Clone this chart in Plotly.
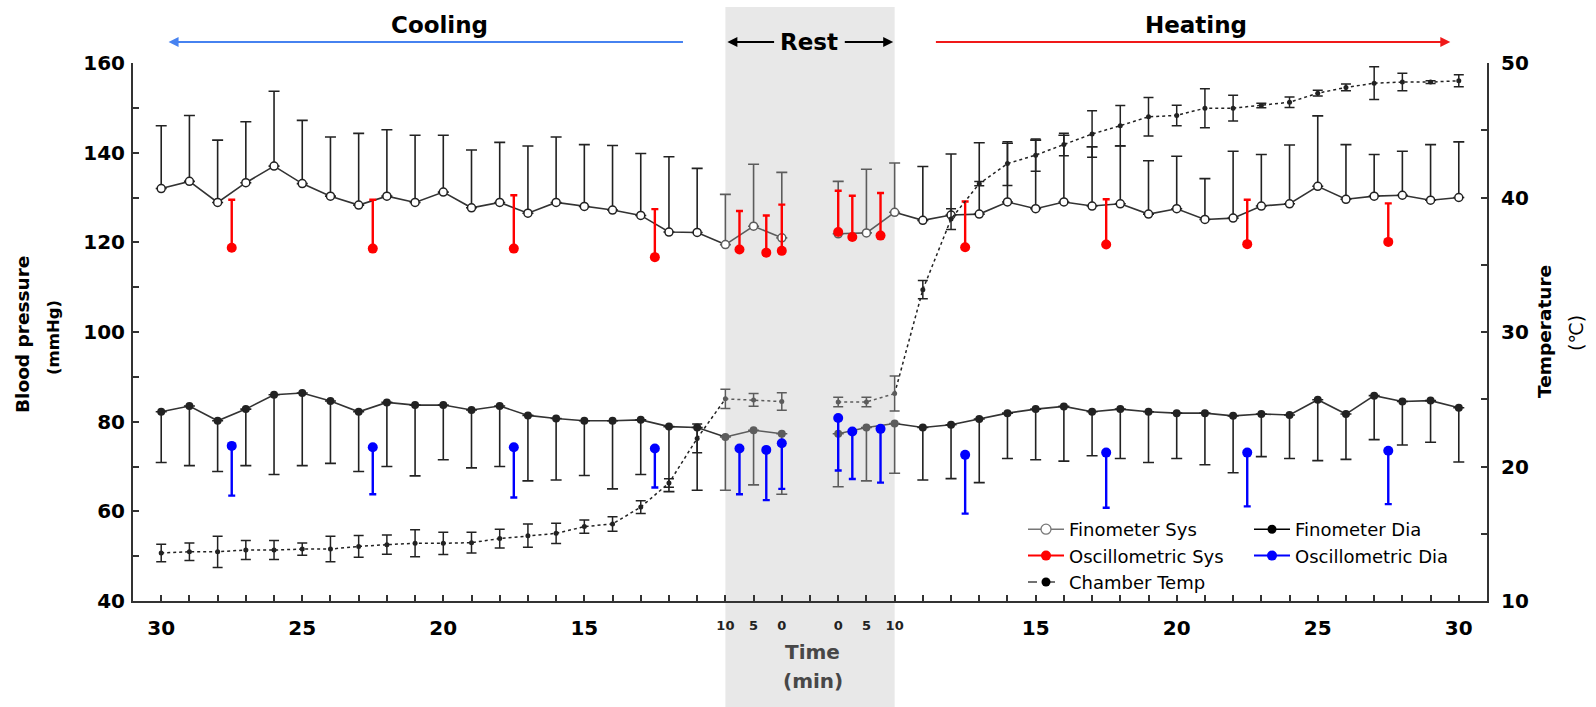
import plotly.graph_objects as go

# ---------------- data ----------------
# x "slots": 0..19 cooling 30..11 min, 20..22 rest 10,5,0 ; 23 blank ; 24..26 rest 0,5,10 ; 27..46 heating 11..30 min
fin_slots = list(range(0, 23)) + list(range(24, 47))

big_tick_slots = [0, 5, 10, 15, 31, 36, 41, 46]
big_tick_text = ["30", "25", "20", "15", "15", "20", "25", "30"]
rest_tick_slots = [20, 21, 22, 24, 25, 26]
rest_tick_text = ["10", "5", "0", "0", "5", "10"]

fin_sys = [132.0, 133.6, 128.9, 133.3, 137.0, 133.1, 130.3, 128.3, 130.3, 128.9,
           131.2, 127.7, 128.9, 126.5, 128.9, 128.0, 127.2, 126.0, 122.3, 122.2,
           119.5, 123.6, 121.0,
           121.9, 122.1, 126.7,
           124.9, 126.1, 126.3, 129.0, 127.5, 129.0, 128.1, 128.6, 126.3, 127.5,
           125.1, 125.4, 128.1, 128.6, 132.5, 129.6, 130.3, 130.5, 129.4, 130.0]
fin_sys_err = [14.0, 14.7, 13.9, 13.6, 16.7, 14.1, 13.2, 16.0, 14.8, 15.0,
               12.7, 12.9, 13.4, 15.0, 14.6, 13.8, 14.4, 13.8, 16.8, 14.3,
               11.2, 13.8, 14.6,
               11.7, 14.2, 11.0,
               12.0, 13.6, 15.9, 13.1, 15.3, 14.9, 13.2, 12.9, 11.9, 11.7,
               9.1, 14.9, 11.5, 13.1, 15.7, 12.2, 9.3, 9.8, 12.4, 12.4]
fin_dia = [82.2, 83.5, 80.2, 82.8, 86.0, 86.4, 84.6, 82.2, 84.3, 83.7,
           83.7, 82.6, 83.5, 81.4, 80.7, 80.2, 80.2, 80.4, 78.9, 78.7,
           76.6, 78.1, 77.3,
           77.3, 78.7, 79.6,
           78.7, 79.3, 80.6, 81.9, 82.8, 83.4, 82.2, 82.8, 82.2, 81.9,
           81.9, 81.3, 81.7, 81.5, 84.9, 81.7, 85.8, 84.5, 84.7, 83.1]
fin_dia_err = [11.3, 13.3, 11.3, 12.6, 17.8, 16.2, 13.9, 13.3, 14.3, 15.8,
               12.2, 12.9, 13.5, 14.6, 13.7, 12.2, 15.2, 12.2, 14.5, 14.0,
               11.9, 12.2, 13.5,
               11.8, 11.9, 11.1,
               11.7, 12.0, 14.2, 10.1, 11.3, 12.2, 9.8, 11.0, 11.3, 10.1,
               11.5, 12.7, 9.5, 9.7, 13.6, 10.1, 9.8, 9.7, 9.3, 12.1]
temp = [13.57, 13.66, 13.66, 13.79, 13.79, 13.86, 13.86, 14.06, 14.19, 14.29,
        14.29, 14.34, 14.64, 14.86, 15.03, 15.53, 15.73, 16.98, 18.77, 22.09,
        25.03, 24.95, 24.83,
        24.80, 24.80, 25.42,
        33.15, 38.40, 41.03, 42.52, 43.15, 43.94, 44.72, 45.34, 46.00, 46.10,
        46.64, 46.64, 46.84, 47.08, 47.76, 48.18, 48.50, 48.58, 48.58, 48.68]
temp_err = [0.65, 0.65, 1.16, 0.71, 0.71, 0.45, 0.95, 0.81, 0.72, 1.00,
            0.83, 0.78, 0.70, 0.87, 0.75, 0.50, 0.54, 0.47, 0.31, 1.07,
            0.72, 0.47, 0.65,
            0.35, 0.35, 1.30,
            0.67, 0.77, 0.16, 1.62, 1.20, 0.83, 1.73, 1.50, 1.43, 0.76,
            1.45, 0.96, 0.16, 0.39, 0.22, 0.25, 1.22, 0.65, 0.10, 0.45]

osc_slots = [2.5, 7.5, 12.5, 17.5, 20.5, 21.45, 22.0, 24.0, 24.5, 25.5, 28.5, 33.5, 38.5, 43.5]
osc_sys = [118.8, 118.6, 118.6, 116.7, 118.4, 117.7, 118.1, 122.3, 121.2, 121.5, 118.9, 119.5, 119.6, 120.1]
osc_sys_err = [10.7, 10.9, 11.9, 10.7, 8.6, 8.3, 10.3, 9.2, 9.2, 9.5, 10.2, 10.1, 9.9, 8.6]
osc_dia = [74.6, 74.3, 74.3, 74.0, 74.0, 73.7, 75.2, 80.8, 77.8, 78.4, 72.6, 73.1, 73.1, 73.5]
osc_dia_err = [11.1, 10.5, 11.2, 8.7, 10.2, 11.2, 10.2, 11.7, 10.6, 12.0, 13.1, 12.3, 12.0, 11.9]

# ---------------- styles ----------------
FONT = "DejaVu Sans"
DARK = "#222222"
LINE = "#333333"
REST = "#5c5c5c"
RED = "#ff0000"
BLUE = "#0000ff"
W, H = 1596, 707
ML, MR, MT, MB = 133, 109, 63, 106
XR = [-1, 47]


def ids(lo, hi):
    return [k for k, s in enumerate(fin_slots) if lo <= s <= hi]


def pick(arr, k):
    return [arr[i] for i in k]


fig = go.Figure()

# ---- chamber temperature (right axis) ----
for lo, hi, col in [(0, 20, DARK), (20, 22, REST), (24, 26, REST), (26, 46, DARK)]:
    k = ids(lo, hi)
    fig.add_trace(go.Scatter(x=pick(fin_slots, k), y=pick(temp, k), yaxis="y2", mode="lines",
                             line=dict(color=col, width=1.5, dash="dot"),
                             showlegend=False, hoverinfo="skip"))
for lo, hi, col in [(0, 19, DARK), (20, 26, REST), (27, 46, DARK)]:
    k = ids(lo, hi)
    fig.add_trace(go.Scatter(x=pick(fin_slots, k), y=pick(temp, k), yaxis="y2", mode="markers",
                             marker=dict(color=col, size=5),
                             error_y=dict(type="data", array=pick(temp_err, k), color=col,
                                          thickness=1.5, width=5),
                             showlegend=False))

# ---- Finometer lines ----
for series in (fin_sys, fin_dia):
    for lo, hi, col in [(0, 20, LINE), (20, 22, REST), (24, 26, REST), (26, 46, LINE)]:
        k = ids(lo, hi)
        fig.add_trace(go.Scatter(x=pick(fin_slots, k), y=pick(series, k), mode="lines",
                                 line=dict(color=col, width=1.6), showlegend=False, hoverinfo="skip"))

# ---- Finometer markers + error bars ----
for lo, hi, col in [(0, 19, DARK), (20, 26, REST), (27, 46, DARK)]:
    k = ids(lo, hi)
    n = len(k)
    fig.add_trace(go.Scatter(x=pick(fin_slots, k), y=pick(fin_sys, k), mode="markers",
                             marker=dict(symbol="circle", size=8, color="white",
                                         line=dict(color=col, width=1.5)),
                             error_y=dict(type="data", symmetric=False, array=pick(fin_sys_err, k),
                                          arrayminus=[0] * n, color=col, thickness=1.6, width=5.5),
                             showlegend=False))
    fig.add_trace(go.Scatter(x=pick(fin_slots, k), y=pick(fin_dia, k), mode="markers",
                             marker=dict(symbol="circle", size=8, color=col),
                             error_y=dict(type="data", symmetric=False, array=[0] * n,
                                          arrayminus=pick(fin_dia_err, k), color=col,
                                          thickness=1.6, width=5.5),
                             showlegend=False))

# ---- Oscillometric ----
m = len(osc_slots)
fig.add_trace(go.Scatter(x=osc_slots, y=osc_sys, mode="markers",
                         marker=dict(color=RED, size=10),
                         error_y=dict(type="data", symmetric=False, array=osc_sys_err,
                                      arrayminus=[0] * m, color=RED, thickness=2.4, width=3.5),
                         showlegend=False))
fig.add_trace(go.Scatter(x=osc_slots, y=osc_dia, mode="markers",
                         marker=dict(color=BLUE, size=10),
                         error_y=dict(type="data", symmetric=False, array=[0] * m,
                                      arrayminus=osc_dia_err, color=BLUE, thickness=2.4, width=3.5),
                         showlegend=False))

# ---- legend entries ----
leg = [
    ("Finometer Sys", "legend", dict(color="#777777", width=1.6), dict(size=10, color="white", line=dict(color="#777777", width=1.3))),
    ("Oscillometric Sys", "legend", dict(color=RED, width=2), dict(size=10, color=RED)),
    ("Chamber Temp", "legend", dict(color="#444444", width=1.6, dash="dash"), dict(size=9, color="black")),
    ("Finometer Dia", "legend2", dict(color="black", width=1.6), dict(size=9, color="black")),
    ("Oscillometric Dia", "legend2", dict(color=BLUE, width=2), dict(size=10, color=BLUE)),
]
for name, lg, ln, mk in leg:
    fig.add_trace(go.Scatter(x=[None], y=[None], mode="lines+markers", name=name,
                             line=ln, marker=mk, legend=lg))

# dummy for xaxis2
fig.add_trace(go.Scatter(x=[None], y=[None], xaxis="x2", showlegend=False, hoverinfo="skip"))

# ---------------- layout ----------------
ph = H - MT - MB
pw = W - ML - MR


def py(ypix):
    return (H - MB - ypix) / ph


def px(xpix):
    return (xpix - ML) / pw


tickfont = dict(family=FONT, size=20, color="black", weight="bold")
axis_common = dict(showline=True, linecolor=LINE, linewidth=2, showgrid=False, zeroline=False,
                   ticks="inside", ticklen=6, tickwidth=1.5, tickcolor=LINE, tickfont=tickfont)

main_text = []
for s in range(47):
    main_text.append(big_tick_text[big_tick_slots.index(s)] if s in big_tick_slots else "")

fig.update_layout(
    width=W, height=H,
    margin=dict(l=ML, r=MR, t=MT, b=MB),
    paper_bgcolor="white", plot_bgcolor="rgba(0,0,0,0)",
    font=dict(family=FONT, color="black"),
    xaxis=dict(range=XR, tickmode="array", tickvals=list(range(47)), ticktext=main_text,
               ticklabelstandoff=8, **axis_common),
    xaxis2=dict(range=XR, overlaying="x", anchor="y", side="bottom", showline=False, showgrid=False,
                zeroline=False, ticks="", tickmode="array", tickvals=rest_tick_slots,
                ticktext=rest_tick_text, ticklabelstandoff=15,
                tickfont=dict(family=FONT, size=13, color="#222222", weight="bold")),
    yaxis=dict(range=[40, 160], tick0=40, dtick=20, ticklabelstandoff=2,
               minor=dict(dtick=10, ticks="inside", ticklen=6, tickwidth=1.5, tickcolor=LINE),
               **axis_common),
    yaxis2=dict(range=[10, 50], tick0=10, dtick=10, overlaying="y", side="right", anchor="x",
                ticklabelstandoff=8,
                minor=dict(dtick=5, ticks="inside", ticklen=6, tickwidth=1.5, tickcolor=LINE),
                **axis_common),
    legend=dict(x=px(1023), y=py(511), xanchor="left", yanchor="top", bgcolor="rgba(0,0,0,0)",
                font=dict(family=FONT, size=18, color="black"), tracegroupgap=0, itemwidth=36),
    legend2=dict(x=px(1249), y=py(511), xanchor="left", yanchor="top", bgcolor="rgba(0,0,0,0)",
                 font=dict(family=FONT, size=18, color="black"), tracegroupgap=0, itemwidth=36),
    showlegend=True,
)

# rest shading
fig.add_shape(type="rect", xref="x", yref="paper", x0=20, x1=26, y0=py(H + 5), y1=py(7),
              fillcolor="rgb(232,232,232)", line=dict(width=0), layer="below")

ann = []
C = dict(xanchor="center", yanchor="middle", showarrow=False)
titlefont = dict(family=FONT, size=23, color="black", weight="bold")
ann.append(dict(text="Cooling", xref="x", yref="paper", x=9.86, y=py(25), font=titlefont, **C))
ann.append(dict(text="Heating", xref="x", yref="paper", x=36.7, y=py(25), font=titlefont, **C))
ann.append(dict(text="Rest", xref="x", yref="paper", x=22.97, y=py(42), font=titlefont, **C))


def arrow(head, tail, color):
    return dict(text="", xref="x", yref="paper", x=head, y=py(42), axref="x", ax=tail,
                ayref="pixel", ay=0, showarrow=True, arrowhead=2, arrowsize=1, arrowwidth=2,
                arrowcolor=color, standoff=0, startstandoff=0)


ann.append(arrow(0.26, 18.55, "rgb(70,130,240)"))
ann.append(arrow(45.7, 27.41, "rgb(240,25,25)"))
ann.append(arrow(20.07, 21.78, "black"))
ann.append(arrow(25.95, 24.18, "black"))

labfont = dict(family=FONT, size=20, color="#474747", weight="bold")
ann.append(dict(text="Time", xref="x", yref="paper", x=23.1, y=py(652), font=labfont, **C))
ann.append(dict(text="(min)", xref="x", yref="paper", x=23.1, y=py(681), font=labfont, **C))

ytf = dict(family=FONT, size=18.5, color="black", weight="bold")
ann.append(dict(text="Blood pressure", xref="paper", yref="paper", x=px(22), y=py(335),
                textangle=-90, font=ytf, **C))
ann.append(dict(text="(mmHg)", xref="paper", yref="paper", x=px(54), y=py(338),
                textangle=-90, font=dict(family=FONT, size=16.5, color="black", weight="bold"), **C))
ann.append(dict(text="Temperature", xref="paper", yref="paper", x=px(1544), y=py(332),
                textangle=-90, font=ytf, **C))
ann.append(dict(text="(℃)", xref="paper", yref="paper", x=px(1576), y=py(333),
                textangle=-90, font=dict(family=FONT, size=19, color="black"), **C))

fig.update_layout(annotations=ann)

fig.write_html("out.html")
